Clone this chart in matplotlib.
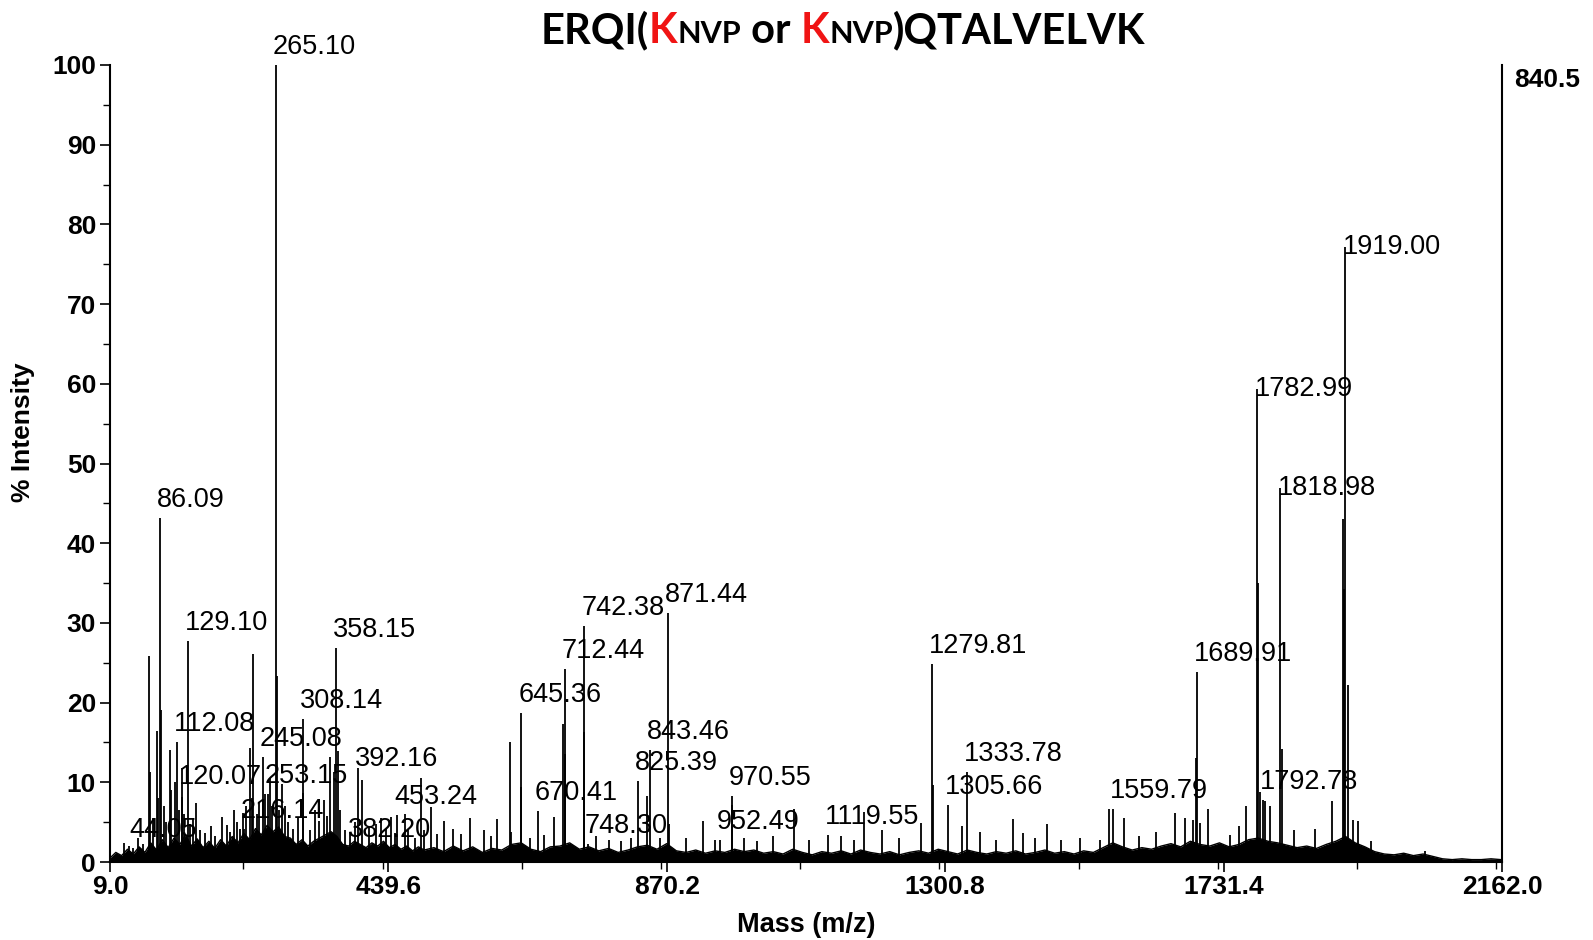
import matplotlib
matplotlib.use("Agg")
import matplotlib.pyplot as plt
from matplotlib.ticker import MultipleLocator

# --- labelled peaks (m/z, % intensity) ---
label_mz = [44.05, 86.09, 112.08, 120.07, 129.10, 216.14, 245.08, 253.15, 265.10,
            308.14, 358.15, 382.20, 392.16, 453.24, 645.36, 670.41, 712.44, 742.38,
            748.30, 825.39, 843.46, 871.44, 952.49, 970.55, 1119.55, 1279.81, 1305.66,
            1333.78, 1559.79, 1689.91, 1782.99, 1792.78, 1818.98, 1919.00]
label_int = [1.8, 43.1, 15.1, 11.8, 27.7, 4.2, 13.2, 8.5, 100.0,
             17.9, 26.9, 1.8, 11.8, 5.9, 18.7, 6.4, 24.2, 29.6,
             2.3, 10.2, 14.0, 31.3, 2.8, 8.3, 3.4, 24.8, 7.1,
             11.3, 6.6, 23.9, 59.3, 7.8, 46.9, 77.2]
label_text = ["44.05", "86.09", "112.08", "120.07", "129.10", "216.14", "245.08", "253.15",
              "265.10", "308.14", "358.15", "382.20", "392.16", "453.24", "645.36", "670.41",
              "712.44", "742.38", "748.30", "825.39", "843.46", "871.44", "952.49", "970.55",
              "1119.55", "1279.81", "1305.66", "1333.78", "1559.79", "1689.91", "1782.99",
              "1792.78", "1818.98", "1919.00"]

# --- other (unlabelled) peaks ---
minor_mz = [30, 39, 52, 60, 69.3, 70.8, 76, 81.1, 84, 88.3, 93, 96, 101.7, 104, 108.9,
            115, 119.7, 123, 133, 137, 141.4, 148, 156, 165, 172, 182.6, 190, 195,
            200.7, 205, 210, 214.6, 219, 224.9, 228, 230.6, 236, 240, 249, 256, 260,
            266.7, 270, 275.4, 280, 285, 292, 300, 307.4, 318, 326, 333, 340, 345,
            349.3, 355.5, 361.6, 365, 372, 380, 388, 399.2, 410, 420, 428, 436, 443,
            450, 464.6, 470, 480, 489.4, 495, 505, 514, 525, 540, 552, 565.7, 587.3,
            598, 607.9, 627, 629.6, 644, 658, 680, 695.4, 709.8, 713.5, 741.4, 760.5,
            781, 800, 815, 840.3, 860, 873.8, 900, 926.9, 945, 971.7, 990, 1010, 1035,
            1067.1, 1090, 1140, 1160, 1175, 1202.3, 1230, 1263, 1282.1, 1327, 1355.3,
            1380, 1405.8, 1421.3, 1440, 1458.9, 1480, 1510, 1539.9, 1553.8, 1577.5,
            1600, 1627.5, 1655.9, 1671.4, 1684.3, 1688.4, 1694.6, 1707.5, 1741,
            1755, 1766.8, 1784.9, 1787.5, 1795.2, 1803, 1822.1, 1840, 1872.5, 1899.8,
            1916.3, 1918.2, 1923.1, 1931.9, 1939.1, 1960, 2043.3]
minor_int = [2.4, 2.0, 3.0, 2.2, 25.8, 11.3, 5.5, 16.4, 8.0, 19.1, 7.0, 5.0, 14.1, 9.0, 10.1,
             6.5, 8.2, 6.0, 4.8, 5.5, 7.4, 4.0, 3.6, 4.5, 3.2, 5.6, 4.6, 3.8,
             6.5, 5.0, 4.2, 6.1, 7.0, 14.3, 8.0, 26.1, 6.0, 7.5, 8.5, 10.5, 7.0,
             23.3, 6.5, 9.8, 7.0, 5.0, 4.2, 5.5, 8.6, 4.0, 6.5, 5.2, 7.8, 5.8,
             13.2, 11.3, 13.9, 6.5, 4.0, 3.8, 5.0, 10.3, 4.5, 4.8, 5.5, 4.2, 5.7,
             3.6, 6.0, 4.0, 3.0, 10.6, 4.0, 6.9, 3.5, 5.2, 4.2, 3.5, 5.5, 4.0,
             3.2, 5.4, 15.1, 3.8, 9.4, 3.0, 3.4, 5.6, 17.3, 13.6, 16.3, 3.2,
             2.8, 2.6, 3.0, 8.3, 3.0, 4.8, 3.0, 5.2, 2.8, 7.2, 3.0, 2.6, 3.2,
             6.6, 2.8, 3.2, 2.8, 6.3, 4.0, 3.0, 4.9, 9.7, 4.5, 3.8,
             2.8, 5.4, 3.6, 3.0, 4.8, 2.8, 3.0, 2.8, 6.6, 5.5,
             3.2, 3.8, 6.2, 5.5, 5.3, 13.0, 4.9, 6.7, 3.4,
             4.5, 7.0, 35.0, 8.8, 7.6, 7.0, 14.2, 4.0, 4.2, 7.6,
             43.0, 34.3, 22.2, 5.3, 5.1, 2.6, 1.4]

# --- baseline noise profile ---
noise_mz = [9, 18, 27, 36, 45, 54, 63, 72, 81, 90, 99, 108, 117, 126, 135, 144, 153, 162,
            171, 180, 189, 198, 207, 216, 225, 234, 243, 252, 261, 270, 279, 288, 297, 306,
            315, 324, 333, 342, 351, 360, 369, 378, 387, 396, 405, 414, 423, 432, 441, 450,
            459, 468, 477, 486, 495,
            510, 525, 540, 555, 570, 585, 600, 615, 630, 645, 660, 675, 690, 705, 720, 735,
            750, 765, 780, 795, 810, 825, 840, 855, 870, 885, 900, 915, 930, 945, 960, 975,
            990, 1005, 1020, 1035, 1050, 1065, 1080, 1095, 1110, 1125, 1140, 1155, 1170,
            1185, 1200, 1215, 1230, 1245, 1260, 1275, 1290, 1305, 1320, 1335, 1350, 1365,
            1380, 1395, 1410, 1425, 1440, 1455, 1470, 1485, 1500, 1515, 1530, 1545, 1560,
            1575, 1590, 1605, 1620, 1635, 1650, 1665, 1680, 1695, 1710, 1725, 1740, 1755,
            1770, 1785, 1800, 1815, 1830, 1845, 1860, 1875, 1890, 1905, 1920, 1935, 1950,
            1965, 1980, 1995, 2010, 2025, 2040, 2055, 2070, 2085, 2100, 2115, 2130, 2145,
            2160]
noise_int = [0.5, 1.2, 0.8, 1.6, 1.0, 1.9, 1.2, 2.4, 1.5, 2.8, 1.8, 3.0, 2.2, 3.4, 2.0, 2.9, 1.8, 2.6,
             1.7, 2.8, 2.0, 3.2, 2.4, 3.6, 2.8, 4.2, 3.4, 4.6, 3.8, 4.4, 3.2, 3.0, 2.2, 2.8,
             2.0, 2.6, 3.0, 3.4, 3.8, 3.2, 2.2, 2.0, 2.6, 2.2, 1.8, 2.4, 2.0, 2.6, 1.8, 2.2,
             1.6, 2.0, 1.4, 1.9, 1.5,
             1.8, 1.3, 2.0, 1.4, 1.9, 1.2, 1.7, 1.5, 2.2, 2.4, 1.6, 1.3, 1.9, 2.0, 2.4, 1.6,
             1.9, 1.4, 1.7, 1.2, 1.5, 1.9, 2.1, 1.6, 2.3, 1.4, 1.2, 1.5, 1.1, 1.4, 1.2, 1.6,
             1.3, 1.5, 1.1, 1.3, 1.0, 1.6, 1.2, 0.9, 1.3, 1.1, 1.4, 1.0, 1.5,
             1.2, 1.0, 1.3, 0.9, 1.2, 1.4, 1.1, 1.6, 1.3, 1.0, 1.5, 1.2, 1.0,
             1.3, 1.1, 1.4, 1.0, 1.2, 1.5, 1.1, 1.3, 1.0, 1.4, 1.2, 1.8, 2.4,
             1.9, 1.5, 1.8, 1.6, 2.0, 2.3, 1.9, 2.6, 2.2, 2.0, 2.4, 1.9, 2.2,
             2.8, 3.0, 2.6, 2.4, 2.1, 1.8, 2.0, 1.7, 2.2, 2.6, 3.2, 2.4, 1.9,
             1.3, 1.0, 0.9, 1.1, 0.8, 1.0, 0.7, 0.4, 0.3, 0.4, 0.3, 0.3, 0.4,
             0.3]

TITLE_PARTS = [("ERQI(", "big", "black"), ("K", "big", "#f01414"), ("NVP", "small", "black"),
               (" or ", "big", "black"), ("K", "big", "#f01414"), ("NVP", "small", "black"),
               (")QTALVELVK", "big", "black")]

W, H = 1593, 940
fig = plt.figure(figsize=(W / 100, H / 100), dpi=100)
ax = fig.add_axes([110 / W, 78 / H, 1392 / W, 797 / H])

# spectrum: noise floor + sticks
ax.fill_between(noise_mz, 0, noise_int, color="black", lw=0)
ax.plot(noise_mz, noise_int, color="black", lw=1.0)
ax.vlines(minor_mz, 0, minor_int, color="black", lw=1.3)
ax.vlines(label_mz, 0, label_int, color="black", lw=1.3)

# peak labels
special = {"120.07": -22, "392.16": -4}
centered = {"1782.99", "1818.98", "1919.00"}
for mz, inten, txt in zip(label_mz, label_int, label_text):
    if txt in centered:
        ax.annotate(txt, (mz, inten), xytext=(-2, 0), textcoords="offset pixels",
                    ha="left", va="center", fontsize=19.5, family="Liberation Sans")
    else:
        dy = special.get(txt, 5)
        ax.annotate(txt, (mz, inten), xytext=(-3, dy), textcoords="offset pixels",
                    ha="left", va="bottom", fontsize=19.5, family="Liberation Sans")

ax.set_xlim(9.0, 2162.0)
ax.set_ylim(0, 100)
ax.set_xticks([9.0, 439.6, 870.2, 1300.8, 1731.4, 2162.0])
ax.set_xticklabels(["9.0", "439.6", "870.2", "1300.8", "1731.4", "2162.0"])
ax.xaxis.set_minor_locator(MultipleLocator(215.3))
ax.set_yticks(range(0, 101, 10))
ax.yaxis.set_minor_locator(MultipleLocator(5))
ax.spines["top"].set_visible(False)
for s in ["left", "right", "bottom"]:
    ax.spines[s].set_linewidth(1.5)
ax.tick_params(which="major", length=7, width=1.2, direction="out")
ax.tick_params(which="minor", length=5, width=1.0, direction="out")
ax.tick_params(axis="y", which="both", right=False, pad=3)
ax.tick_params(axis="x", which="both", top=False, pad=2)
for lab in ax.get_xticklabels() + ax.get_yticklabels():
    lab.set_fontsize(19)
    lab.set_fontweight("bold")
    lab.set_family("Liberation Sans")

fig.text(23 / W, (H - 432) / H, "% Intensity", rotation=90, ha="center", va="center",
         fontsize=19, fontweight="bold", family="Liberation Sans")
fig.text(806 / W, (H - 925) / H, "Mass (m/z)", ha="center", va="center",
         fontsize=19.5, fontweight="bold", family="Liberation Sans")
fig.text(1514 / W, (H - 80) / H, "840.5", ha="left", va="center",
         fontsize=19, fontweight="bold", family="Liberation Sans")

# title pieced together (red K, small NVP)
sizes = {"big": 30, "small": 22}
renderer = fig.canvas.get_renderer()
pieces = []
x = 0
base_y = H - 43
for s, sz, col in TITLE_PARTS:
    t = fig.text(x, base_y, s, transform=None, fontsize=sizes[sz], color=col,
                 fontweight="bold", family="Lato", ha="left", va="baseline")
    w = t.get_window_extent(renderer).width
    pieces.append(t)
    x += w
x0 = 843 - x / 2
pos = x0
for t in pieces:
    w = t.get_window_extent(renderer).width
    t.set_x(pos)
    pos += w

fig.savefig("out.png", dpi=100)
